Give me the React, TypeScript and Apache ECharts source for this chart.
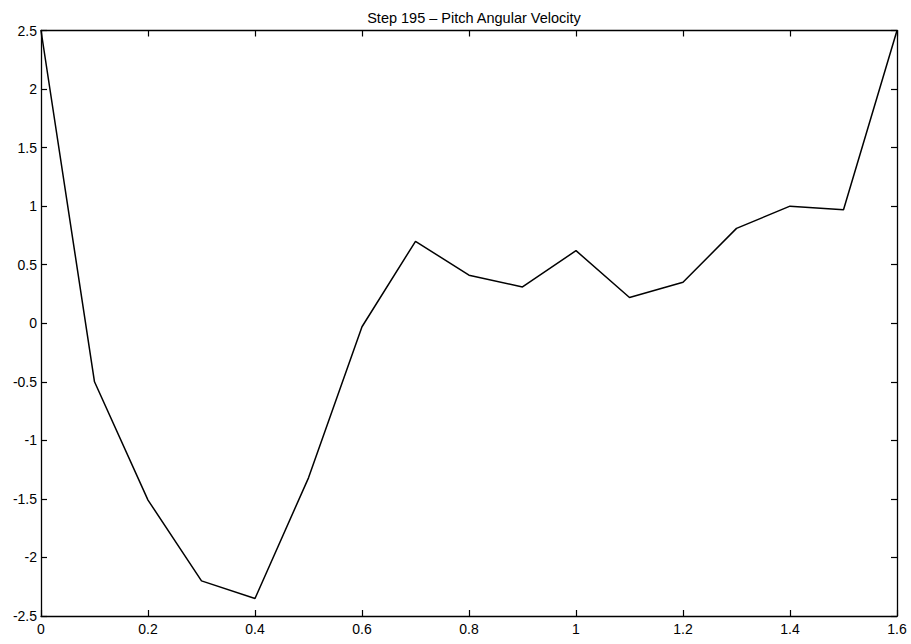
import React, { useEffect, useRef } from "react";
import * as echarts from "echarts";

// Pitch angular velocity sampled every 0.1 s
const times = [0, 0.1, 0.2, 0.3, 0.4, 0.5, 0.6, 0.7, 0.8, 0.9, 1.0, 1.1, 1.2, 1.3, 1.4, 1.5, 1.6];
const pitchRate = [2.5, -0.5, -1.51, -2.2, -2.35, -1.32, -0.03, 0.7, 0.41, 0.31, 0.62, 0.22, 0.35, 0.81, 1.0, 0.97, 2.5];

const titleText = "Step 195 \u2013 Pitch Angular Velocity";
const font = "'Liberation Sans', Arial, Helvetica, sans-serif";

const fmt = (v: number) => String(+v.toFixed(2));

export default function App() {
  const ref = useRef<HTMLDivElement>(null);

  useEffect(() => {
    if (!ref.current) return;
    const chart = echarts.init(ref.current, undefined, { renderer: "svg" });
    const axisCommon = {
      axisLine: { show: true, onZero: false, lineStyle: { color: "#000", width: 1.3 } },
      axisTick: { show: true, inside: true, length: 6, lineStyle: { color: "#000", width: 1.2 } },
      splitLine: { show: false },
    };
    chart.setOption({
      animation: false,
      backgroundColor: "#fff",
      title: {
        text: titleText,
        left: 469,
        textAlign: "center",
        top: 5,
        textStyle: { fontFamily: font, fontSize: 14.5, fontWeight: "normal", color: "#000" },
      },
      grid: { left: 41, right: 14, top: 30.5, bottom: 28, containLabel: false },
      xAxis: [
        {
          type: "value",
          min: 0,
          max: 1.6,
          interval: 0.2,
          position: "bottom",
          ...axisCommon,
          axisLabel: {
            color: "#000",
            fontFamily: font,
            fontSize: 14,
            margin: 6,
            formatter: fmt,
          },
        },
        {
          type: "value",
          min: 0,
          max: 1.6,
          interval: 0.2,
          position: "top",
          ...axisCommon,
          axisLabel: { show: false },
        },
      ],
      yAxis: [
        {
          type: "value",
          min: -2.5,
          max: 2.5,
          interval: 0.5,
          position: "left",
          ...axisCommon,
          axisLabel: {
            color: "#000",
            fontFamily: font,
            fontSize: 14,
            margin: 4,
            formatter: fmt,
          },
        },
        {
          type: "value",
          min: -2.5,
          max: 2.5,
          interval: 0.5,
          position: "right",
          ...axisCommon,
          axisLabel: { show: false },
        },
      ],
      series: [
        {
          type: "line",
          data: times.map((t, i) => [t, pitchRate[i]]),
          showSymbol: false,
          symbol: "none",
          lineStyle: { color: "#000", width: 1.5 },
          clip: false,
        },
      ],
    });
    return () => chart.dispose();
  }, []);

  return <div ref={ref} style={{ width: 911, height: 644, position: "absolute", left: 0, top: 0 }} />;
}
